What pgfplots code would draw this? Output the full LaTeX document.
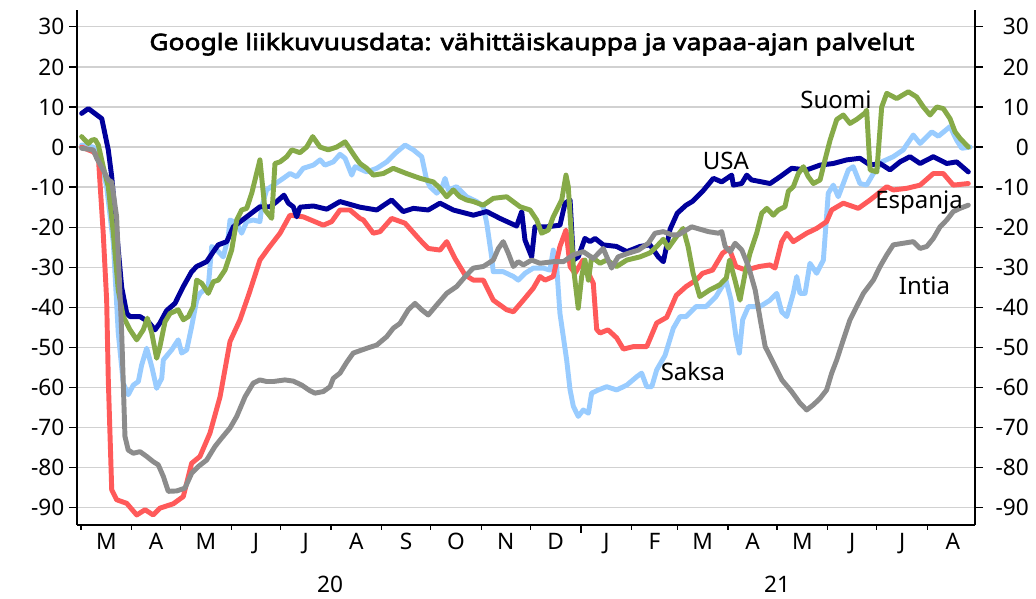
\documentclass[border=0pt]{standalone}
\usepackage{pgfplots}
\pgfplotsset{compat=1.18}
\usepackage{pgfplotstable}
\usepackage{fontspec}
\setmainfont{Noto Sans}
\newfontfamily\titlefont{Noto Sans}[FakeBold=2.7, FakeStretch=1.165]

\definecolor{cusa}{RGB}{0,0,155}
\definecolor{csaksa}{RGB}{153,204,255}
\definecolor{cesp}{RGB}{255,90,90}
\definecolor{csuomi}{RGB}{134,170,72}
\definecolor{cintia}{RGB}{140,140,140}

% x = days since 1 March 2020, y = change from baseline (%)
\pgfplotstableread{
d v
0.4 8.4
4.5 9.6
12.7 7.1
16.7 -0.7
18.8 -7.4
21.8 -21
24.9 -35
28.0 -41.5
30.0 -42.3
36.1 -42.3
41.2 -43.6
45.3 -45.6
48.3 -43.9
52.4 -40.8
57.5 -39.0
62.6 -34.8
67.7 -31.1
70.8 -29.8
76.9 -28.6
81.0 -26.1
84.0 -24.4
89.2 -23.6
93.2 -19.9
101.4 -17.4
109.5 -14.9
115.7 -14.9
119.8 -13.6
124.2 -12.0
126.9 -14.0
129.9 -14.9
132.0 -17.4
134.0 -15.0
142.2 -14.7
150.4 -15.5
158.5 -13.6
170.7 -15.0
181.0 -15.7
190.1 -13.2
197.2 -16.1
203.4 -15.3
212.5 -15.7
219.7 -14.0
227.8 -15.7
240.1 -17.0
248.3 -16.1
256.4 -17.8
266.6 -19.7
269.7 -16.1
271.7 -23.2
275.8 -27.4
277.8 -19.9
285.0 -19.9
293.1 -19.5
296.2 -14.0
299.3 -13.2
301.3 -28.2
304.3 -27.4
308.4 -22.8
311.5 -23.6
314.6 -22.8
319.6 -24.4
327.8 -24.8
334.0 -26.1
342.1 -24.8
348.2 -24.4
353.3 -27.4
356.4 -28.6
360.5 -20.5
364.9 -16.5
370.3 -14.5
374.4 -13.5
380.5 -11.0
387.0 -7.8
392.1 -8.7
398.2 -7.0
399.2 -9.5
404.3 -9.1
407.4 -7.0
410.4 -8.2
421.7 -9.1
427.8 -7.4
434.9 -5.3
444.1 -5.7
452.3 -4.5
460.4 -4.1
468.6 -3.2
476.7 -2.8
482.9 -4.5
489.0 -4.1
495.1 -5.7
501.2 -3.7
507.3 -2.4
513.5 -4.1
521.6 -2.4
529.8 -4.1
535.9 -3.7
543.0 -6.2
}\usa

\pgfplotstableread{
d v
0.4 0
7.5 -1.2
10.6 -2.4
13.6 -21.5
15.7 -38.2
16.7 -58
18.8 -85.5
21.8 -88
28.0 -88.9
34.1 -91.8
39.2 -90.5
44.2 -91.8
48.3 -90.1
56.5 -89.0
62.6 -87.2
67.7 -78.9
72.8 -77.2
78.9 -71.4
85.1 -62.3
91.2 -48.5
97.3 -43.1
102.9 -36.5
109.5 -28.2
114.6 -25.3
121.8 -21.5
127.9 -17.0
136.0 -17.4
148.3 -19.5
153.4 -18.6
158.5 -15.7
164.6 -15.7
170.7 -17.8
172.8 -18.2
178.9 -21.5
183.0 -21.1
190.1 -17.8
198.3 -19.0
207.5 -23.2
212.5 -25.3
219.7 -25.7
223.8 -23.6
228.9 -27.8
235.0 -31.9
240.1 -33.2
246.2 -33.2
252.3 -38.2
260.5 -40.6
264.6 -41.1
270.7 -38.2
276.8 -35.2
280.9 -32.3
284.0 -33.2
289.0 -32.3
293.1 -24.8
296.8 -20.7
299.3 -29.8
302.3 -31.5
307.2 -28.2
311.5 -32.3
313.5 -34.0
315.6 -45.5
317.6 -46.4
322.5 -45.6
327.8 -47.6
331.9 -50.4
338.0 -49.8
346.2 -49.8
352.3 -43.9
358.4 -42.5
364.3 -37.0
370.3 -34.8
376.4 -33.2
380.4 -31.5
386.5 -30.7
392.6 -26.5
396.7 -25.3
400.8 -29.8
406.9 -30.7
415.1 -29.8
421.7 -29.4
424.7 -30.2
428.8 -23.6
431.9 -21.5
435.9 -23.6
444.1 -21.5
450.2 -20.3
456.3 -18.6
459.4 -15.7
466.5 -14.0
475.7 -15.3
482.9 -13.2
493.1 -9.9
497.1 -10.7
505.3 -10.3
513.5 -9.5
521.6 -6.6
527.7 -6.6
533.8 -9.5
543.0 -9.1
}\espanja

\pgfplotstableread{
d v
0.4 0.5
7.5 0
11.6 -2.4
15.7 -9.9
19.8 -24
22.8 -46.4
25.9 -59
28.9 -61.8
32.0 -59.4
35.1 -58.5
37.1 -54.4
40.2 -50.2
43.3 -54.8
46.3 -60.2
49.4 -57.7
50.4 -53.1
55.5 -50.6
59.5 -48.1
61.6 -51.4
64.7 -50.6
67.7 -44.8
70.8 -38.2
72.8 -36.5
77.9 -34.8
80.0 -24.8
83.0 -25.7
87.1 -27.4
90.1 -22.4
91.2 -18.2
95.3 -19.0
98.3 -21.5
101.4 -18.6
105.4 -18.2
109.5 -18.6
110.6 -14.9
113.6 -10.7
117.7 -9.5
123.8 -7.8
127.9 -6.6
132.0 -7.4
136.0 -5.3
142.2 -4.5
146.3 -3.2
149.3 -4.5
154.4 -3.7
158.5 -1.8
161.6 -2.8
165.7 -7.0
167.7 -4.9
174.9 -6.2
181.0 -5.3
187.1 -3.7
192.2 -1.6
198.3 0.5
203.4 -0.7
208.5 -2.4
211.5 -8.2
213.6 -9.9
217.7 -11.5
220.7 -10.3
222.8 -7.8
224.8 -10.7
229.9 -9.9
236.0 -12.4
242.2 -13.6
246.2 -14.9
248.3 -19.0
251.3 -27.4
252.3 -31.1
258.4 -31.1
264.6 -32.3
267.6 -33.2
271.7 -31.5
276.8 -30.2
282.9 -30.2
287.0 -30.7
289.0 -25.7
291.1 -29.8
293.1 -41.5
297.2 -53.1
299.3 -60.6
301.3 -64.7
304.3 -67.2
307.4 -65.6
310.5 -66.4
312.5 -61.4
316.6 -60.6
321.7 -59.8
327.8 -60.6
334.0 -59.4
340.1 -57.3
343.1 -56.4
346.2 -59.8
349.3 -59.8
352.3 -55.6
357.4 -52.0
362.5 -45.2
366.6 -42.3
370.3 -42.3
376.4 -39.8
382.5 -39.8
388.6 -37.3
394.7 -33.2
397.8 -38.2
400.8 -47.3
402.9 -51.4
404.9 -43.1
408.4 -39.8
415.5 -39.8
421.7 -38.2
425.8 -36.5
428.8 -41.1
431.9 -42.3
435.9 -36.5
438.0 -32.3
440.0 -36.5
443.1 -36.5
446.1 -29.0
450.2 -31.5
454.3 -28.2
457.3 -11.5
460.4 -9.5
463.4 -12.4
466.5 -9.1
469.6 -5.7
472.6 -4.9
476.7 -9.1
480.8 -9.5
484.9 -6.6
490.0 -3.7
497.1 -2.4
503.2 -0.7
509.3 3.0
513.5 0.9
520.6 3.8
524.7 2.7
531.8 5.1
535.9 1.7
539.0 -0.3
544.1 0
}\saksa

\pgfplotstableread{
d v
0.4 2.6
4.5 0.9
6.5 1.7
8.6 1.9
10.6 0.5
13.6 -4.9
16.7 -9.9
19.8 -21.5
22.8 -35.7
25.9 -42.3
30.0 -45.6
34.1 -48.1
38.1 -45.6
40.6 -42.7
43.3 -46.4
46.3 -52.7
48.3 -49.8
51.4 -43.6
54.5 -41.5
59.5 -40.6
62.6 -43.1
65.7 -42.3
68.7 -39.8
70.8 -33.2
73.9 -34.0
77.9 -36.5
81.0 -33.6
84.0 -33.2
88.1 -30.7
92.2 -25.7
95.3 -18.2
98.3 -15.7
101.4 -15.3
104.5 -11.5
109.5 -3.2
112.6 -15.7
116.7 -17.8
118.7 -4.1
121.8 -3.7
125.9 -2.4
129.0 -0.7
134.0 -1.4
138.1 0
141.8 2.6
146.3 0
151.3 -0.7
156.5 0
161.6 1.3
164.6 -0.5
167.7 -2.4
170.7 -4.1
174.9 -5.3
178.9 -7.0
185.0 -6.6
191.1 -5.3
199.2 -6.6
207.5 -7.8
215.6 -8.7
219.7 -10.3
223.8 -12.4
227.8 -10.7
231.9 -12.4
236.0 -13.2
240.1 -13.6
246.2 -14.5
252.3 -12.8
260.5 -12.4
268.7 -14.9
274.8 -15.7
278.9 -18.2
281.9 -21.5
286.0 -20.7
289.0 -17.4
294.2 -13.2
296.8 -7.0
298.2 -9.9
301.3 -29.8
304.3 -40.2
306.4 -32.3
308.4 -28.2
310.5 -33.2
312.5 -27.4
317.6 -29.0
321.7 -28.2
327.8 -29.8
334.0 -28.2
342.1 -27.4
348.2 -26.4
352.3 -24.8
356.4 -23.0
359.4 -25.2
364.3 -22.4
368.5 -20.3
371.5 -24.8
374.6 -31.5
378.7 -37.3
384.6 -35.7
390.8 -34.4
394.9 -32.7
396.9 -28.2
400.2 -33.2
403.3 -38.2
406.4 -31.5
409.4 -26.5
413.5 -21.5
416.6 -16.5
419.7 -15.3
423.7 -17.0
426.8 -15.7
430.8 -14.9
432.9 -11.0
435.9 -9.9
439.0 -6.6
442.1 -4.9
445.1 -7.4
448.2 -9.1
452.3 -8.2
455.3 -3.2
458.4 1.7
462.5 6.9
466.5 8.0
470.6 5.9
474.7 6.9
479.8 8.5
480.8 9.2
482.9 -5.7
487.0 -6.2
490.0 10.0
493.1 13.4
499.2 12.1
506.3 13.8
511.4 12.5
515.5 10.0
519.6 8.0
523.7 10.0
527.7 9.6
531.8 7.1
534.9 3.8
537.9 2.2
543.0 0
}\suomi

\pgfplotstableread{
d v
0.4 -0.3
7.5 -0.7
9.6 -2.8
13.6 -5.7
16.7 -8.2
18.8 -8.7
21.8 -17.4
24.9 -46.4
26.9 -72.2
28.9 -75.6
32.0 -76.4
36.1 -76.0
40.2 -77.2
44.2 -78.5
47.3 -79.3
50.4 -82.2
53.4 -85.9
58.6 -85.8
63.6 -85.1
67.7 -81.4
71.8 -79.7
76.9 -78.1
82.0 -74.7
86.1 -72.6
91.2 -70.1
95.3 -67.2
100.4 -62.3
105.4 -58.9
109.5 -58.1
113.6 -58.5
117.7 -58.5
124.8 -58.1
129.9 -58.4
135.1 -59.4
140.1 -60.8
143.2 -61.4
148.3 -61.0
152.4 -59.8
154.4 -57.7
158.5 -56.4
162.6 -53.7
166.6 -51.4
174.9 -50.2
181.0 -49.4
187.1 -47.3
191.1 -45.2
195.2 -44.0
200.3 -40.6
204.4 -39.0
208.5 -40.6
212.5 -41.9
217.7 -39.4
223.8 -36.5
229.9 -34.8
236.0 -31.9
240.1 -30.2
246.2 -29.8
252.3 -28.2
255.4 -25.3
258.4 -23.6
261.5 -26.5
264.6 -29.8
267.6 -28.6
270.7 -29.4
275.8 -28.2
280.9 -29.0
289.0 -28.6
295.2 -28.6
301.3 -26.9
307.4 -26.1
313.5 -27.8
319.6 -25.3
324.7 -30.2
328.7 -27.4
334.9 -26.5
341.2 -25.7
347.2 -24.0
351.3 -21.5
356.4 -21.1
361.5 -21.9
365.6 -21.9
373.7 -19.9
383.9 -21.1
390.1 -21.5
392.1 -21.1
394.2 -24.8
397.3 -26.1
400.3 -24.0
404.4 -25.7
408.5 -29.8
412.6 -35.7
415.7 -43.1
418.7 -49.8
423.8 -53.9
428.9 -58.1
434.9 -61.0
440.0 -63.9
444.1 -65.6
448.2 -64.3
452.3 -62.7
456.3 -60.6
459.4 -56.4
462.5 -53.1
466.5 -48.1
470.6 -43.1
474.7 -39.8
478.8 -36.5
484.9 -33.2
489.0 -29.8
493.1 -26.9
497.1 -24.4
503.2 -24.0
509.3 -23.6
513.5 -25.3
517.6 -24.8
521.6 -22.8
525.7 -19.9
529.8 -18.2
533.8 -16.1
537.9 -15.3
543.0 -14.5
}\intia

\pgfplotsset{
  base/.style={
    scale only axis, width=673.5pt, height=386.25pt,
    xmin=-2.45, xmax=547.1, ymin=-94.3, ymax=34.2,
    at={(0,0)}, anchor=south west,
    tick align=outside,
    tick label style={font=\fontsize{17}{20}\selectfont},
    /pgf/number format/assume math mode=true,
    axis line style={line width=1.1pt, black},
    every tick/.style={black, line width=1pt},
    major tick length=6pt,
  },
  ser/.style={line width=3.7pt, line join=round, line cap=round},
}

\begin{document}
\begin{tikzpicture}
\useasboundingbox (-57.75pt,-55.5pt) rectangle (719.25pt,393.75pt);

% main axis: data, grid, left labels, month names
\begin{axis}[base,
  axis x line*=bottom, axis y line*=left,
  ytick={-90,-80,...,30},
  ymajorgrids, grid style={draw=black!18, line width=1pt},
  xtick=\empty,
  extra x ticks={15.5,46,76.5,107,137.5,168.5,199,229.5,260,290.5,321.5,351,380.5,411,441.5,472,502.5,533.5},
  extra x tick labels={M,A,M,J,J,A,S,O,N,D,J,F,M,A,M,J,J,A},
  extra x tick style={major tick length=0pt, tick style={draw=none}, xticklabel style={yshift=-2.6pt}},
  clip mode=individual,
]
\addplot[ser, csaksa] table[x=d, y=v] {\saksa};
\addplot[ser, cesp] table[x=d, y=v] {\espanja};
\addplot[ser, cusa] table[x=d, y=v] {\usa};
\addplot[ser, csuomi] table[x=d, y=v] {\suomi};
\addplot[ser, cintia] table[x=d, y=v] {\intia};

\node[anchor=base, font=\titlefont\fontsize{17}{20}\selectfont] at (axis cs:275.9,24.2) {Google liikkuvuusdata: vähittäiskauppa ja vapaa-ajan palvelut};
\node[anchor=base, font=\fontsize{18}{20}\selectfont] at (axis cs:462,9.6) {Suomi};
\node[anchor=base, font=\fontsize{18}{20}\selectfont] at (axis cs:394.7,-5.7) {USA};
\node[anchor=base, font=\fontsize{18}{20}\selectfont] at (axis cs:512.9,-15.3) {Espanja};
\node[anchor=base, font=\fontsize{18}{20}\selectfont] at (axis cs:516.2,-36.9) {Intia};
\node[anchor=base, font=\fontsize{18}{20}\selectfont] at (axis cs:374.5,-58.3) {Saksa};
\node[anchor=north, inner sep=0pt, yshift=-38.25pt, font=\fontsize{17}{20}\selectfont] at (axis cs:152.4,-94.3) {20};
\node[anchor=north, inner sep=0pt, yshift=-38.25pt, font=\fontsize{17}{20}\selectfont] at (axis cs:426,-94.3) {21};
\end{axis}

% right labels and year tick
\begin{axis}[base,
  axis x line*=bottom, axis y line*=right,
  ytick={-90,-80,...,30},
  yticklabel style={anchor=east, inner sep=0pt, xshift=34.5pt},
  xtick={306}, xticklabels={},
]
\end{axis}

% month boundary ticks
\begin{axis}[base,
  axis x line*=bottom, axis y line=none,
  ytick=\empty,
  xtick={0,31,61,92,122,153,184,214,245,275,306,337,365,396,426,457,487,518},
  xticklabels={},
  major tick length=3.4pt,
]
\end{axis}
\end{tikzpicture}
\end{document}
